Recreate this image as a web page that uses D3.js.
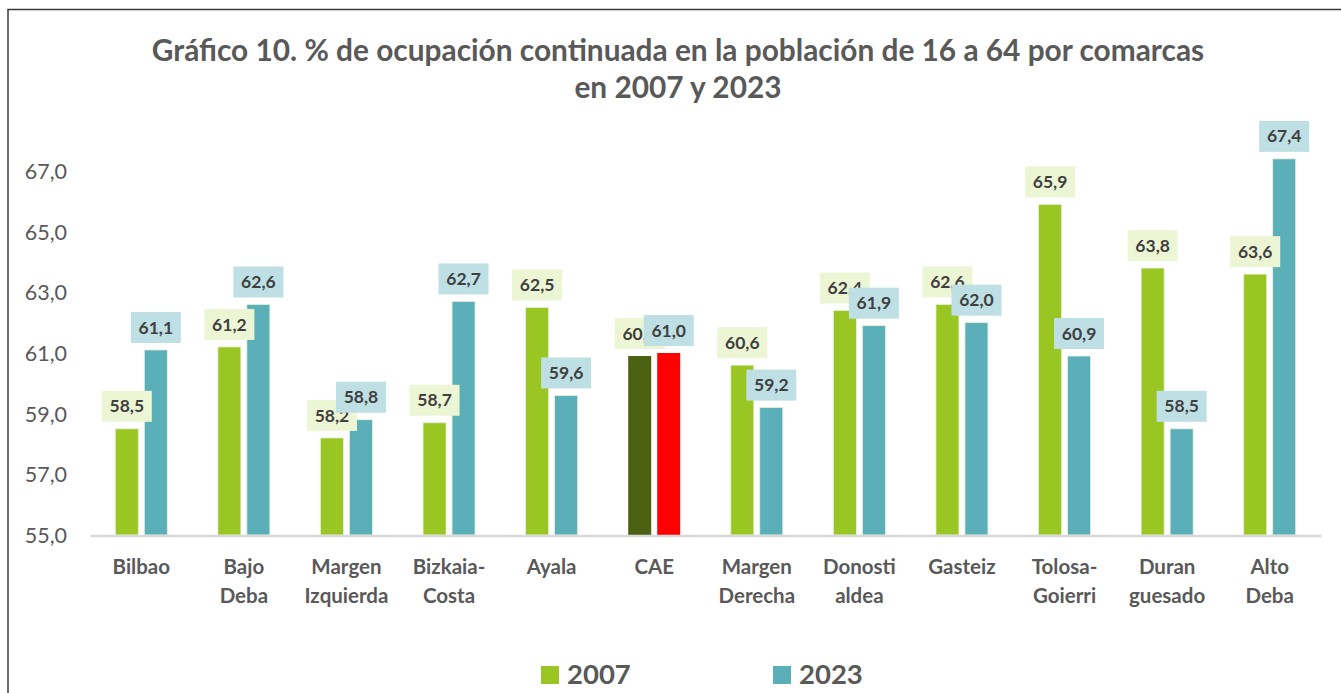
<!DOCTYPE html>
<html><head><meta charset="utf-8">
<script src="https://cdn.jsdelivr.net/npm/d3@7"></script>
<style>
html,body{margin:0;padding:0;background:#fff;}
svg{display:block;font-family:Lato,"Open Sans",sans-serif;}
</style></head>
<body>
<svg id="chart" width="1341" height="693"></svg>
<script>
const categories = [["Bilbao"],["Bajo","Deba"],["Margen","Izquierda"],["Bizkaia-","Costa"],["Ayala"],["CAE"],["Margen","Derecha"],["Donosti","aldea"],["Gasteiz"],["Tolosa-","Goierri"],["Duran","guesado"],["Alto","Deba"]];
const series = ["2007","2023"];
const values2007 = [58.5,61.2,58.2,58.7,62.5,60.9,60.6,62.4,62.6,65.9,63.8,63.6];
const values2023 = [61.1,62.6,58.8,62.7,59.6,61.0,59.2,61.9,62.0,60.9,58.5,67.4];
const yTicks = [55,57,59,61,63,65,67];
const titleLines = ["Gráfico 10. % de ocupación continuada en la población de 16 a 64 por comarcas","en 2007 y 2023"];

const colors = {"2007":"#9AC623","2023":"#5AAFB8"};
const labelBg = {"2007":"#EDF6D4","2023":"#BEDFE4"};
const specialColors = {"CAE":{"2007":"#4B6011","2023":"#FF0000"}};

const svg = d3.select("#chart");
const keys = categories.map(c => c.join(" "));
const data = keys.map((k,i)=>({key:k, lines:categories[i], v:{"2007":values2007[i],"2023":values2023[i]}}));

const x0 = d3.scaleBand().domain(keys).range([90,1321]).padding(0);
const x1 = d3.scaleBand().domain(series).range([x0.bandwidth()/2-26, x0.bandwidth()/2+26]).paddingInner(2-52/29).paddingOuter(0);
const y = d3.scaleLinear().domain([55,67]).range([535,171]);

// frame
svg.append("rect").attr("x",8).attr("y",9.5).attr("width",1400).attr("height",800)
  .attr("fill","none").attr("stroke","#3a3a3a").attr("stroke-width",1.5);

// title
const title = svg.append("g");
titleLines.forEach((t,i)=>{
  title.append("text").attr("x",678).attr("y",61+i*37).attr("text-anchor","middle")
    .attr("font-weight","bold").attr("font-size",27).attr("fill","#595959").text(t);
});
(function(){
  const n = title.select("text").node();
  const w = n.getComputedTextLength();
  const fs = 27*1053/w;
  title.selectAll("text").attr("font-size",fs);
})();

// y axis
const yAxis = d3.axisLeft(y).tickValues(yTicks).tickSize(0).tickPadding(0)
  .tickFormat(d=>d3.format(".1f")(d).replace(".",","));
const yg = svg.append("g").attr("transform","translate(67,0)").call(yAxis);
yg.select(".domain").remove();
yg.selectAll("text").attr("font-size",21.5).attr("fill","#595959").attr("font-family","Lato,sans-serif").attr("dy","0.35em");

// bars
const groups = svg.append("g").selectAll("g").data(data).join("g")
  .attr("transform",d=>`translate(${x0(d.key)},0)`);
series.forEach(s=>{
  groups.append("rect")
    .attr("x",x1(s)).attr("width",x1.bandwidth())
    .attr("y",d=>y(d.v[s])).attr("height",d=>y(55)-y(d.v[s]))
    .attr("fill",d=>(specialColors[d.key]||colors)[s])
    .attr("stroke",d=>specialColors[d.key]?"none":"#e6f0d8").attr("stroke-width",0.8);
});

// x axis baseline
const xAxis = d3.axisBottom(x0).tickSize(0).tickFormat("");
const xg = svg.append("g").attr("transform","translate(0,535.5)").call(xAxis);
xg.select(".domain").attr("stroke","#D9D9D9").attr("stroke-width",2.5);

// category labels
const catG = svg.append("g");
data.forEach(d=>{
  const t = catG.append("text").attr("text-anchor","middle").attr("font-weight","bold")
    .attr("font-size",20.5).attr("fill","#595959");
  d.lines.forEach((ln,i)=>{
    t.append("tspan").attr("x",x0(d.key)+x0.bandwidth()/2).attr("y",574+i*29).text(ln);
  });
});

// data labels
const fmt = v => d3.format(".1f")(v).replace(".",",");
series.forEach(s=>{
  const lg = svg.append("g");
  data.forEach(d=>{
    const cx = x0(d.key)+x1(s)+x1.bandwidth()/2;
    const top = y(d.v[s]);
    lg.append("rect").attr("x",cx-25).attr("y",top-38).attr("width",50).attr("height",31)
      .attr("fill",labelBg[s]);
    lg.append("text").attr("x",cx).attr("y",top-22.5).attr("dy","0.35em").attr("text-anchor","middle")
      .attr("font-weight","bold").attr("font-size",17.5).attr("fill","#404040").text(fmt(d.v[s]));
  });
});

// legend
const legend = svg.append("g");
const legX = {"2007":541,"2023":773};
series.forEach(s=>{
  legend.append("rect").attr("x",legX[s]).attr("y",666).attr("width",18).attr("height",18).attr("fill",colors[s]);
  legend.append("text").attr("x",legX[s]+26).attr("y",684).attr("font-weight","bold").attr("font-size",27.5)
    .attr("fill","#595959").text(s);
});
</script>
</body></html>
